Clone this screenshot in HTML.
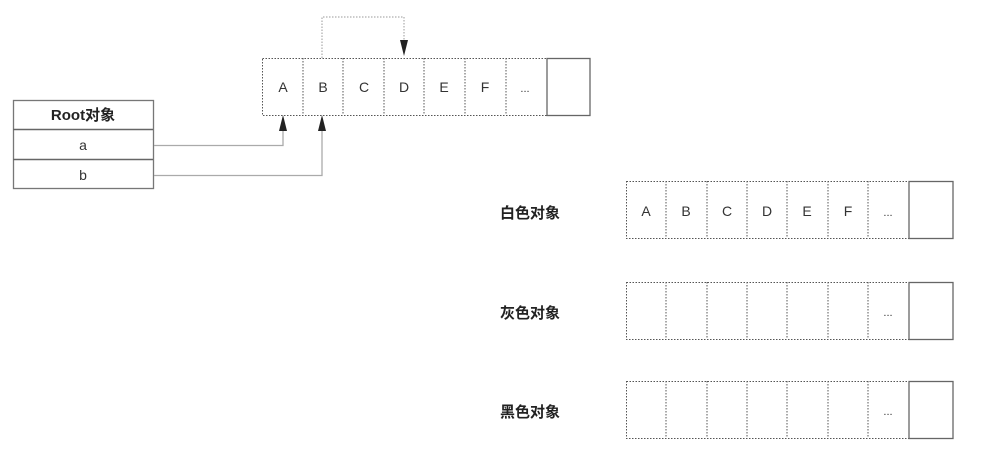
<!DOCTYPE html>
<html><head><meta charset="utf-8"><style>body{margin:0;background:#fff}svg{display:block}</style></head>
<body>
<svg width="981" height="453" xmlns="http://www.w3.org/2000/svg" font-family="Liberation Sans, Noto Sans CJK SC, sans-serif">
<defs><marker id="ah" markerWidth="8" markerHeight="14" refX="4" refY="14" orient="auto" markerUnits="userSpaceOnUse"><path d="M0,0 L8,0 L4,14 Z" fill="#222"/></marker></defs>
<g stroke="#555" fill="none">
<!-- top array -->
<rect x="262.5" y="58.5" width="284.5" height="57" stroke-dasharray="1.5,1.5"/>
<rect x="547" y="58.5" width="43" height="57" stroke="#666" stroke-width="1.3"/>
<g stroke-dasharray="1.5,1.5">
<line x1="303" y1="58" x2="303" y2="115"/><line x1="343" y1="58" x2="343" y2="115"/><line x1="384" y1="58" x2="384" y2="115"/><line x1="424" y1="58" x2="424" y2="115"/><line x1="465" y1="58" x2="465" y2="115"/><line x1="506" y1="58" x2="506" y2="115"/>
<polyline points="322,58 322,17 404,17 404,40" stroke="#999"/>
</g>
<path d="M400,40 L408,40 L404,56 Z" fill="#222" stroke="none"/>
<!-- root table -->
<rect x="13.5" y="100.5" width="140" height="88" stroke="#777" stroke-width="1.3"/>
<line x1="13" y1="129.5" x2="153" y2="129.5" stroke="#666" stroke-width="1.5"/>
<line x1="13" y1="159.5" x2="153" y2="159.5" stroke="#666" stroke-width="1.5"/>
<polyline points="154,145.5 283,145.5 283,130" stroke="#aaa" stroke-width="1.3"/>
<polyline points="154,175.5 322,175.5 322,130" stroke="#aaa" stroke-width="1.3"/>
</g>
<path d="M279,131 L287,131 L283,115 Z" fill="#222"/>
<path d="M318,131 L326,131 L322,115 Z" fill="#222"/>
<g font-size="14" fill="#333" text-anchor="middle">
<text x="83" y="120" font-weight="bold" font-size="15" fill="#222">Root对象</text>
<text x="83" y="150">a</text><text x="83" y="180">b</text>
<text x="283" y="92">A</text><text x="323" y="92">B</text><text x="364" y="92">C</text><text x="404" y="92">D</text><text x="444" y="92">E</text><text x="485" y="92">F</text><text x="525" y="92" font-size="11">...</text>
<text x="646" y="216">A</text><text x="686" y="216">B</text><text x="727" y="216">C</text><text x="767" y="216">D</text><text x="807" y="216">E</text><text x="848" y="216">F</text><text x="888" y="216" font-size="11">...</text>
<text x="888" y="316" font-size="11">...</text><text x="888" y="415" font-size="11">...</text>
</g>
<g font-size="15" font-weight="bold" fill="#222">
<text x="500" y="218">白色对象</text><text x="500" y="318">灰色对象</text><text x="500" y="417">黑色对象</text>
</g>
<g stroke="#555" fill="none">
<g id="arr">
<rect x="626.5" y="181.5" width="282.5" height="57" stroke-dasharray="1.5,1.5"/>
<rect x="909" y="181.5" width="44" height="57" stroke="#666" stroke-width="1.3"/>
<g stroke-dasharray="1.5,1.5"><line x1="666" y1="181" x2="666" y2="238"/><line x1="707" y1="181" x2="707" y2="238"/><line x1="747" y1="181" x2="747" y2="238"/><line x1="787" y1="181" x2="787" y2="238"/><line x1="828" y1="181" x2="828" y2="238"/><line x1="868" y1="181" x2="868" y2="238"/></g>
</g>
<use href="#arr" y="101"/>
<use href="#arr" y="200"/>
</g>
</svg>
</body></html>
